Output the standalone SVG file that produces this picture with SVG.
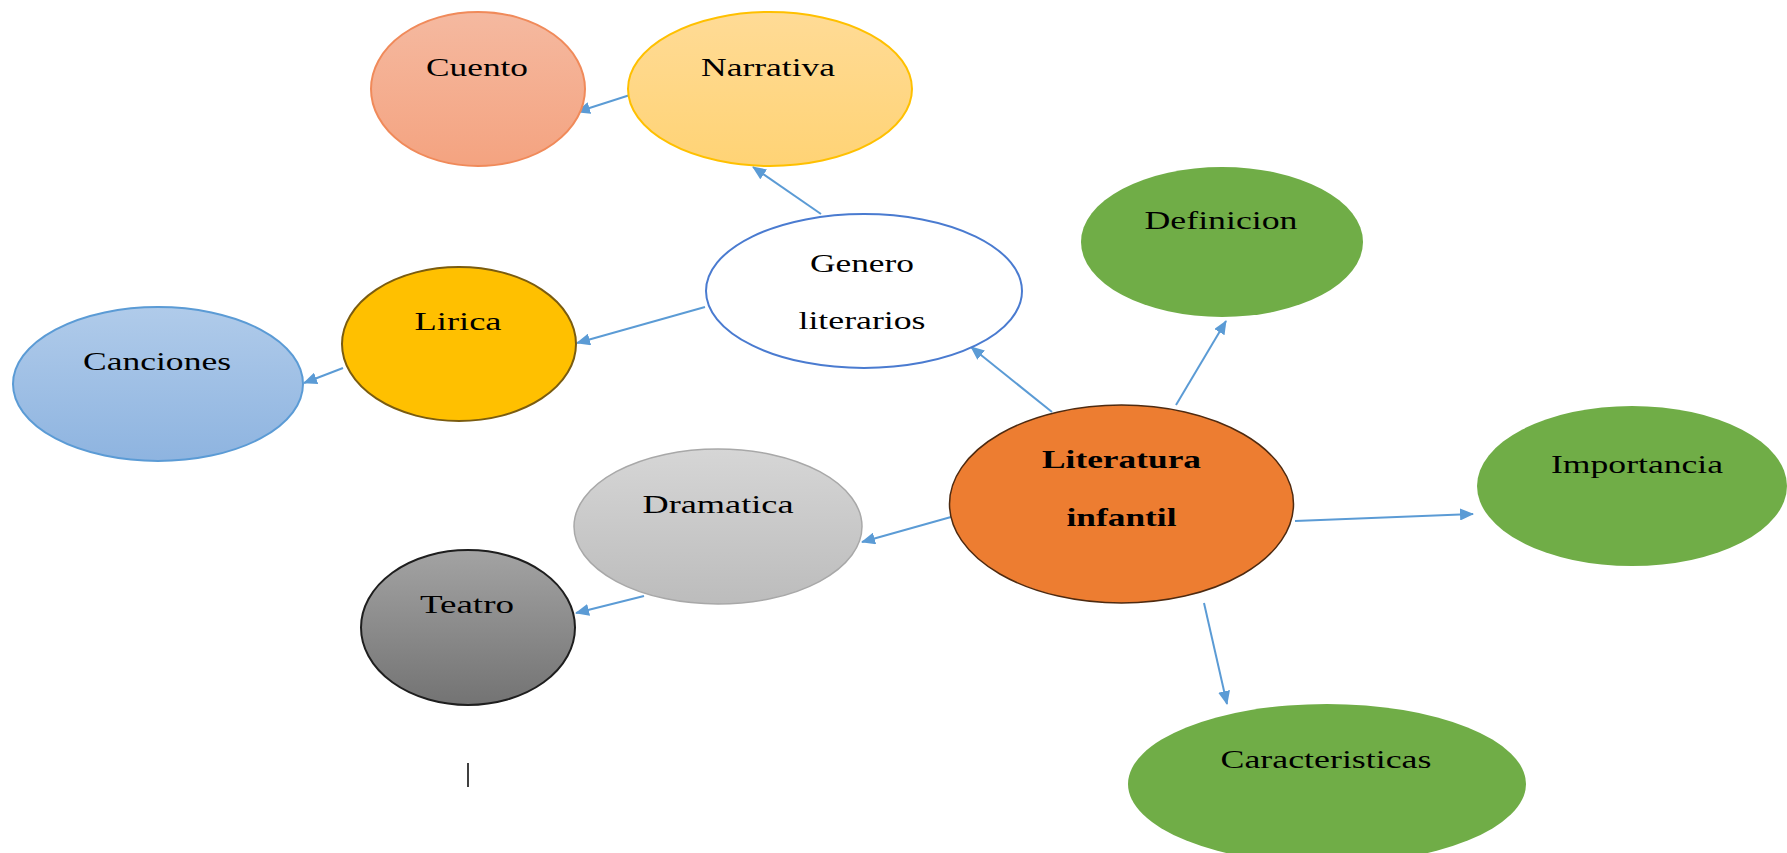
<svg xmlns="http://www.w3.org/2000/svg" width="1787" height="853" viewBox="0 0 1787 853">
<defs>
<style>
.t{font-family:"Liberation Serif","Times New Roman",serif;font-size:25px;fill:#000;text-anchor:middle}
.b{font-weight:bold;font-size:26px}
.c{stroke:#5B9BD5;stroke-width:2;fill:none;marker-end:url(#ah)}
</style>
<marker id="ah" viewBox="0 0 14 12" refX="13" refY="6" markerWidth="14" markerHeight="12" markerUnits="userSpaceOnUse" orient="auto">
<path d="M0,0 L14,6 L0,12 z" fill="#5B9BD5"/>
</marker>
<linearGradient id="gCuento" x1="0" y1="0" x2="0" y2="1"><stop offset="0" stop-color="#F5B9A0"/><stop offset="1" stop-color="#F4A380"/></linearGradient>
<linearGradient id="gNarr" x1="0" y1="0" x2="0" y2="1"><stop offset="0" stop-color="#FFDB96"/><stop offset="1" stop-color="#FFD375"/></linearGradient>
<linearGradient id="gCanc" x1="0" y1="0" x2="0" y2="1"><stop offset="0" stop-color="#B0CBEA"/><stop offset="1" stop-color="#8EB4E0"/></linearGradient>
<linearGradient id="gDram" x1="0" y1="0" x2="0" y2="1"><stop offset="0" stop-color="#D6D6D6"/><stop offset="1" stop-color="#BCBCBC"/></linearGradient>
<linearGradient id="gTeat" x1="0" y1="0" x2="0" y2="1"><stop offset="0" stop-color="#A3A3A3"/><stop offset="1" stop-color="#737373"/></linearGradient>
</defs>
<rect width="1787" height="853" fill="#FFFFFF"/>
<g id="connectors">
<line class="c" x1="630" y1="95" x2="577" y2="112"/>
<line class="c" x1="821" y1="214" x2="753" y2="167"/>
<line class="c" x1="705" y1="307" x2="577" y2="343"/>
<line class="c" x1="343" y1="368" x2="304" y2="383"/>
<line class="c" x1="1052" y1="412" x2="971" y2="347"/>
<line class="c" x1="1176" y1="405" x2="1226" y2="321"/>
<line class="c" x1="1295" y1="521" x2="1473" y2="514"/>
<line class="c" x1="951" y1="517" x2="862" y2="542"/>
<line class="c" x1="644" y1="596" x2="576" y2="613"/>
<line class="c" x1="1204" y1="603" x2="1227" y2="704"/>
</g>
<g id="cuento">
<ellipse cx="478" cy="89" rx="107" ry="77" fill="url(#gCuento)" stroke="#F08A5A" stroke-width="2"/>
<text class="t" x="477" y="76" textLength="102" lengthAdjust="spacingAndGlyphs">Cuento</text>
</g>
<g id="narrativa">
<ellipse cx="770" cy="89" rx="142" ry="77" fill="url(#gNarr)" stroke="#FFC000" stroke-width="2"/>
<text class="t" x="768" y="76" textLength="134" lengthAdjust="spacingAndGlyphs">Narrativa</text>
</g>
<g id="genero">
<ellipse cx="864" cy="291" rx="158" ry="77" fill="#FFFFFF" stroke="#4A7BD0" stroke-width="2"/>
<text class="t" x="862" y="272" textLength="104" lengthAdjust="spacingAndGlyphs">Genero</text>
<text class="t" x="862" y="329" textLength="127" lengthAdjust="spacingAndGlyphs">literarios</text>
</g>
<g id="lirica">
<ellipse cx="459" cy="344" rx="117" ry="77" fill="#FFC000" stroke="#7A5C10" stroke-width="2"/>
<text class="t" x="458" y="330" textLength="87" lengthAdjust="spacingAndGlyphs">Lirica</text>
</g>
<g id="canciones">
<ellipse cx="158" cy="384" rx="145" ry="77" fill="url(#gCanc)" stroke="#5B9BD5" stroke-width="2"/>
<text class="t" x="157" y="370" textLength="148" lengthAdjust="spacingAndGlyphs">Canciones</text>
</g>
<g id="definicion">
<ellipse cx="1222" cy="242" rx="141" ry="75" fill="#70AD47"/>
<text class="t" x="1221" y="229" textLength="153" lengthAdjust="spacingAndGlyphs">Definicion</text>
</g>
<g id="literatura">
<ellipse cx="1121.5" cy="504" rx="172" ry="99" fill="#ED7D31" stroke="#4E2A10" stroke-width="1.5"/>
<text class="t b" x="1121.5" y="468" textLength="159" lengthAdjust="spacingAndGlyphs">Literatura</text>
<text class="t b" x="1121.5" y="526" textLength="110" lengthAdjust="spacingAndGlyphs">infantil</text>
</g>
<g id="importancia">
<ellipse cx="1632" cy="486" rx="155" ry="80" fill="#70AD47"/>
<text class="t" x="1637" y="473" textLength="172" lengthAdjust="spacingAndGlyphs">Importancia</text>
</g>
<g id="dramatica">
<ellipse cx="718" cy="526.5" rx="144" ry="77.5" fill="url(#gDram)" stroke="#A8A8A8" stroke-width="1.5"/>
<text class="t" x="718" y="513" textLength="151" lengthAdjust="spacingAndGlyphs">Dramatica</text>
</g>
<g id="teatro">
<ellipse cx="468" cy="627.5" rx="107" ry="77.5" fill="url(#gTeat)" stroke="#1E1E1E" stroke-width="2"/>
<text class="t" x="467" y="613" textLength="94" lengthAdjust="spacingAndGlyphs">Teatro</text>
</g>
<g id="caracteristicas">
<ellipse cx="1327" cy="784" rx="199" ry="80" fill="#70AD47"/>
<text class="t" x="1326" y="768" textLength="211" lengthAdjust="spacingAndGlyphs">Caracteristicas</text>
</g>
<line x1="468" y1="763" x2="468" y2="787" stroke="#000" stroke-width="1.5"/>
</svg>
